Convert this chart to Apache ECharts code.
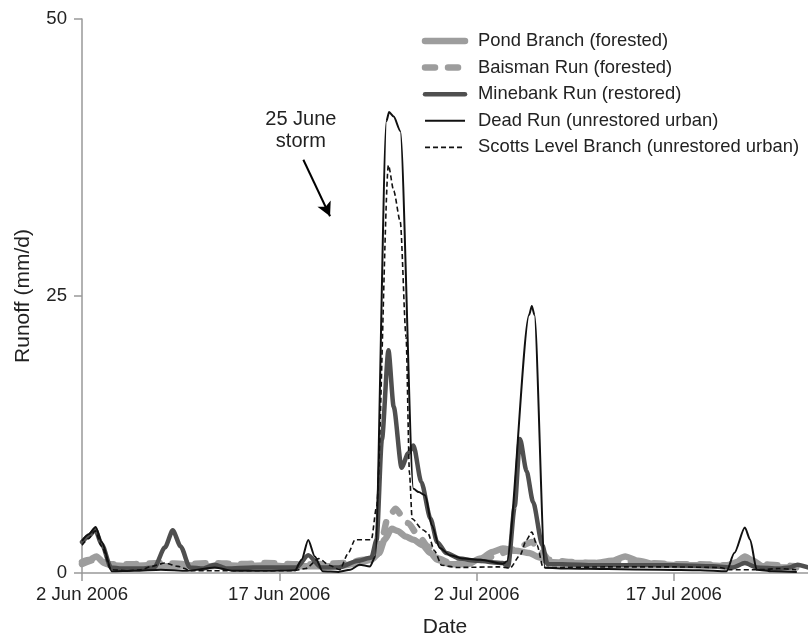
<!DOCTYPE html>
<html>
<head>
<meta charset="utf-8">
<script src="https://cdn.jsdelivr.net/npm/echarts@6/dist/echarts.min.js"></script>
<style>
  html, body { margin: 0; padding: 0; background: #fff; }
  #chart { width: 808px; height: 643px; }
</style>
</head>
<body>
<div id="chart"></div>
<script>
// Daily runoff (mm/d) for five Baltimore-area streams, summer 2006.
// x values are days counted from 2 Jun 2006.
const tickDays = [0, 15, 30, 45];
const tickLabels = ['2 Jun 2006', '17 Jun 2006', '2 Jul 2006', '17 Jul 2006'];

const pondBranch = [
  [0, 1.0], [0.6, 1.2], [1.1, 1.5], [1.6, 1.0], [2.2, 0.7], [3.5, 0.6], [5, 0.7], [6.5, 0.6],
  [8, 0.7], [9.5, 0.6], [11, 0.7], [12.5, 0.6], [14, 0.7], [15.5, 0.6], [17, 0.6], [18.5, 0.6],
  [20, 0.7], [21, 0.9], [22, 1.2], [22.6, 1.8], [23.0, 3.0], [23.55, 4.0], [24.0, 3.8],
  [24.6, 3.3], [25.2, 3.0], [25.9, 2.5], [26.5, 1.8], [27.0, 1.2], [28, 0.8], [29.3, 0.8],
  [30.3, 1.3], [31.2, 1.9], [32.0, 2.2], [33, 2.0], [34, 1.8], [34.8, 1.4], [35.5, 1.0],
  [37, 0.9], [39, 0.9], [40.3, 1.1], [41.3, 1.5], [42.3, 1.1], [43.5, 0.8], [45.5, 0.7],
  [47.5, 0.7], [49, 0.6], [49.8, 1.0], [50.4, 1.5], [51, 1.1], [51.8, 0.6], [53, 0.5], [54.3, 0.5]
];

const baismanRun = [
  [0, 0.8], [1, 1.2], [2, 0.8], [4, 0.8], [6, 0.9], [8, 0.8], [10, 0.9], [12, 0.8], [14, 0.9],
  [16, 0.8], [18, 0.8], [20, 0.9], [21.5, 1.2], [22.4, 1.6], [22.8, 3.0], [23.2, 4.8],
  [23.85, 5.8], [24.3, 5.2], [24.8, 4.5], [25.5, 3.5], [26.3, 2.4], [27.1, 1.3], [28, 0.9],
  [29.5, 0.9], [30.5, 1.2], [31.5, 1.6], [32.5, 2.0], [33.3, 2.4], [34.2, 2.8], [34.8, 2.1],
  [35.5, 1.2], [37, 1.0], [39, 0.9], [41, 1.1], [43, 0.9], [45, 0.8], [47, 0.8], [49, 0.7],
  [50.4, 1.2], [51.5, 0.8], [53, 0.7], [54.3, 0.6]
];

const minebankRun = [
  [0, 2.8], [0.5, 3.3], [1.0, 3.9], [1.5, 2.6], [2.2, 0.5], [3, 0.4], [4.5, 0.4], [5.5, 0.5],
  [6.3, 2.3], [6.9, 3.85], [7.5, 2.4], [8.2, 0.5], [9.2, 0.4], [10.1, 0.75], [11, 0.4],
  [13, 0.5], [15, 0.5], [16.3, 0.5], [17.2, 1.6], [18.2, 0.5], [19.5, 0.5], [21, 1.1],
  [22.0, 1.4], [22.4, 3], [22.8, 12], [23.3, 20.1], [23.7, 15], [24.3, 9.5], [24.8, 10.8],
  [25.2, 11.5], [25.8, 8.2], [26.5, 4.9], [27.0, 2.8], [27.7, 1.8], [28.7, 1.3], [30, 1.1],
  [32.0, 0.9], [32.4, 0.6], [32.9, 6], [33.3, 12.1], [33.8, 9.2], [34.3, 6.4], [35.0, 2.5],
  [35.4, 0.8], [36.5, 0.8], [39, 0.7], [42, 0.7], [45, 0.7], [48, 0.6], [49.5, 0.5],
  [50.4, 0.9], [51.3, 0.5], [53, 0.4], [53.8, 0.5], [54.4, 0.75], [55.2, 0.5]
];

const deadRun = [
  [0, 2.9], [0.5, 3.5], [1.04, 4.16], [1.5, 2.8], [2.26, 0.16], [4, 0.2], [6, 0.3], [8, 0.2],
  [10.1, 0.5], [11.5, 0.2], [14, 0.2], [16.2, 0.25], [16.7, 1.2], [17.2, 2.98], [17.7, 1.5],
  [18.3, 0.15], [19.5, 0.1], [20.4, 0.3], [21.1, 0.74], [21.9, 0.59], [22.3, 1.5],
  [23.15, 40.8], [23.35, 41.6], [23.7, 41.2], [24.2, 39.9], [25.2, 7.6], [25.6, 7.3],
  [26.1, 7.0], [26.6, 4.3], [27.2, 2.26], [28.0, 1.6], [29, 1.3], [30.3, 1.19], [32.0, 0.83],
  [32.3, 1.04], [34.0, 23.3], [34.2, 24.1], [34.4, 23.3], [35.2, 0.47], [37, 0.4], [40, 0.35],
  [44, 0.3], [47, 0.25], [49.0, 0.15], [49.6, 1.8], [50.4, 4.1], [50.8, 3.0], [51.3, 0.3],
  [52.5, 0.15], [54.35, 0.1]
];

const scottsLevelBranch = [
  [0, 2.5], [0.5, 3.1], [1.0, 3.8], [1.5, 2.4], [2.2, 0.3], [3.5, 0.2], [4.5, 0.3], [5.3, 0.6],
  [6.3, 0.9], [7.3, 0.6], [8.3, 0.2], [10, 0.2], [12, 0.2], [14, 0.2], [16, 0.2], [17.0, 0.4],
  [18.0, 1.3], [18.8, 0.7], [19.6, 0.3], [20.25, 1.8], [20.76, 3.0], [22.0, 3.0], [22.4, 6],
  [23.3, 36.8], [23.7, 34.5], [24.2, 31.7], [24.64, 21.3], [24.9, 9], [25.1, 4.9], [25.9, 3.9],
  [26.3, 3.6], [26.8, 2.0], [27.35, 0.7], [28.5, 0.5], [31.7, 0.55], [32.55, 0.45], [33.3, 1.6],
  [33.8, 3.0], [34.2, 3.7], [34.6, 2.5], [35.06, 0.5], [36, 0.5], [40, 0.55], [45, 0.55],
  [48.5, 0.5], [49.2, 0.3], [51.5, 0.3], [53, 0.4], [54.3, 0.3]
];

// Storm annotation: arrow ends and label anchor, in (day, runoff) units
const stormArrow = [[16.83, 37.3], [18.86, 32.2]];
const stormLabelAt = [16.64, 39.9];
const stormLabel = '25 June\nstorm';

const FONT = "'Liberation Sans', Arial, Helvetica, sans-serif";
const LIGHT = '#9d9d9d';
const DARK = '#4f4f4f';
const BLACK = '#111';

const STYLES = {
  pond: { color: LIGHT, width: 6.5, cap: 'round', join: 'round' },
  baisman: { color: LIGHT, width: 6.5, type: [10, 13], cap: 'round', join: 'round' },
  minebank: { color: DARK, width: 4.5, cap: 'round', join: 'round' },
  dead: { color: BLACK, width: 2, join: 'round' },
  scotts: { color: BLACK, width: 1.6, type: [5, 3] }
};

const NAMES = {
  pond: 'Pond Branch (forested)',
  baisman: 'Baisman Run (forested)',
  minebank: 'Minebank Run (restored)',
  dead: 'Dead Run (unrestored urban)',
  scotts: 'Scotts Level Branch (unrestored urban)'
};

function lineSeries(key, data, extra) {
  const style = STYLES[key];
  return Object.assign({
    name: NAMES[key],
    type: 'line',
    data: data,
    showSymbol: false,
    symbol: 'none',
    smooth: 0.25,
    smoothMonotone: 'x',
    clip: false,
    lineStyle: style,
    itemStyle: { color: style.color },
    emphasis: { disabled: true }
  }, extra || {});
}

function legendItem(key) {
  const s = STYLES[key];
  return {
    name: NAMES[key],
    itemStyle: { opacity: 0 },
    lineStyle: { color: s.color, width: s.width, type: s.type || 'solid', cap: s.cap || 'butt', opacity: 1 }
  };
}

const chart = echarts.init(document.getElementById('chart'), null, { renderer: 'canvas' });

chart.setOption({
  animation: false,
  backgroundColor: '#fff',
  textStyle: { fontFamily: FONT },
  grid: { left: 82, right: 0, top: 19, bottom: 65, containLabel: false },
  legend: {
    orient: 'vertical',
    right: 4,
    top: 26,
    itemWidth: 40,
    itemHeight: 20,
    itemGap: 6.6,
    selectedMode: false,
    itemStyle: { opacity: 0 },
    textStyle: { fontFamily: FONT, fontSize: 18.4, color: '#222', lineHeight: 20, padding: [0, 0, 0, 8] },
    data: ['pond', 'baisman', 'minebank', 'dead', 'scotts'].map(legendItem)
  },
  xAxis: {
    type: 'value',
    min: 0,
    max: 55.2,
    name: 'Date',
    nameLocation: 'middle',
    nameGap: 44,
    nameTextStyle: { fontFamily: FONT, fontSize: 21, color: '#222' },
    axisLine: { lineStyle: { color: '#999', width: 1.5 } },
    axisTick: { show: true, length: 8, customValues: tickDays, lineStyle: { color: '#999', width: 1.5 } },
    axisLabel: {
      customValues: tickDays,
      margin: 12,
      fontFamily: FONT,
      fontSize: 18.6,
      color: '#222',
      formatter: function (v) {
        const i = tickDays.indexOf(v);
        return i >= 0 ? tickLabels[i] : '';
      }
    },
    splitLine: { show: false }
  },
  yAxis: {
    type: 'value',
    min: 0,
    max: 50,
    interval: 25,
    name: 'Runoff (mm/d)',
    nameLocation: 'middle',
    nameGap: 48,
    nameTextStyle: { fontFamily: FONT, fontSize: 21, color: '#222' },
    axisLine: { show: true, lineStyle: { color: '#999', width: 1.5 } },
    axisTick: { show: true, length: 8, lineStyle: { color: '#999', width: 1.5 } },
    axisLabel: { margin: 15, fontFamily: FONT, fontSize: 18.6, color: '#222' },
    splitLine: { show: false }
  },
  series: [
    lineSeries('pond', pondBranch),
    lineSeries('baisman', baismanRun),
    lineSeries('minebank', minebankRun),
    lineSeries('dead', deadRun, {
      markLine: {
        silent: true,
        symbol: ['none', 'arrow'],
        symbolSize: [11, 14],
        label: { show: false },
        lineStyle: { color: '#000', width: 2, type: 'solid' },
        data: [[{ coord: stormArrow[0] }, { coord: stormArrow[1] }]]
      },
      markPoint: {
        silent: true,
        symbol: 'circle',
        symbolSize: 0,
        label: {
          show: true,
          position: 'inside',
          formatter: stormLabel,
          fontFamily: FONT,
          fontSize: 20,
          lineHeight: 22,
          color: '#222',
          align: 'center'
        },
        data: [{ coord: stormLabelAt }]
      }
    }),
    lineSeries('scotts', scottsLevelBranch)
  ]
});
</script>
</body>
</html>
